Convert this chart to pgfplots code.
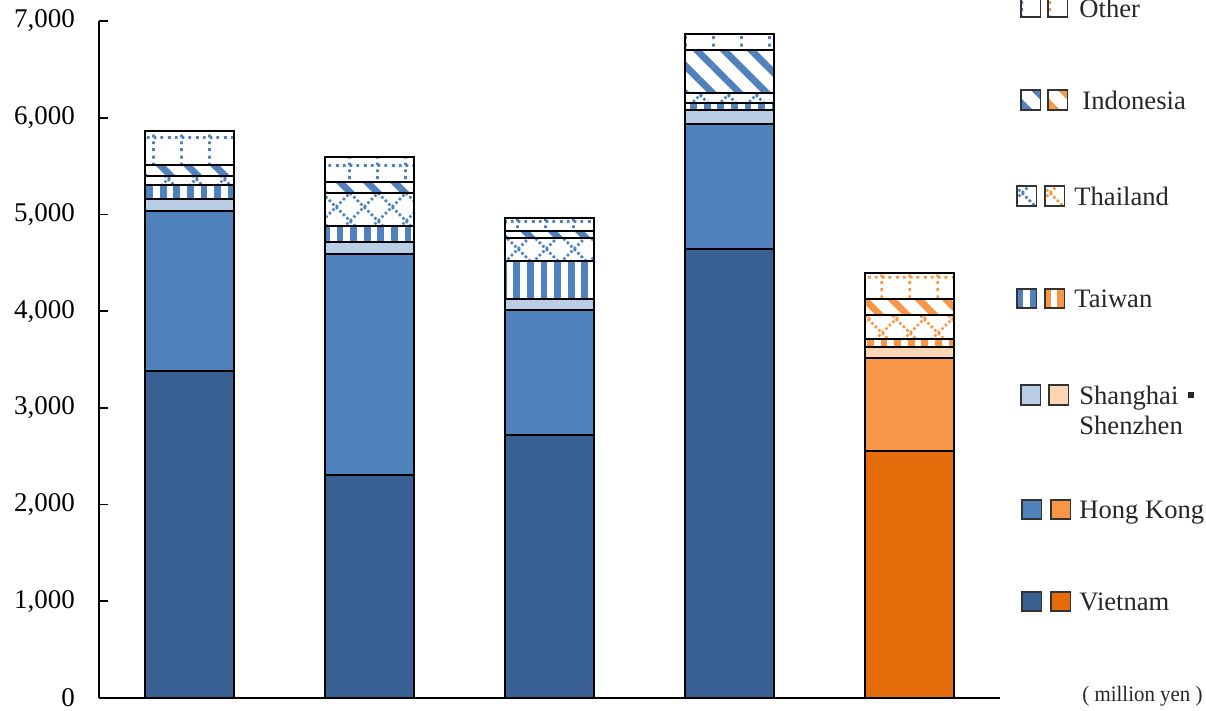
\documentclass[border=0pt]{standalone}
\usepackage{fontspec}
\setmainfont{Liberation Serif}
\usepackage{pgfplots}
\usepackage{pgfplotstable}
\pgfplotsset{compat=1.18}
\usetikzlibrary{patterns,patterns.meta}

\definecolor{bV}{HTML}{386092}
\definecolor{bH}{HTML}{4F81BD}
\definecolor{bS}{HTML}{B9CDE5}
\definecolor{oV}{HTML}{E46C0A}
\definecolor{oH}{HTML}{F79646}
\definecolor{oS}{HTML}{FCD5B5}

\pgfdeclarepatternformonly{thaidiamond}{\pgfqpoint{-1pt}{-1pt}}{\pgfqpoint{15pt}{15pt}}{\pgfqpoint{14pt}{14pt}}{%
  \pgfsetlinewidth{1.3pt}%
  \pgfsetdash{{1.3pt}{1.175pt}}{0pt}%
  \pgfpathmoveto{\pgfqpoint{0pt}{0pt}}\pgfpathlineto{\pgfqpoint{14pt}{14pt}}%
  \pgfpathmoveto{\pgfqpoint{0pt}{14pt}}\pgfpathlineto{\pgfqpoint{14pt}{0pt}}%
  \pgfusepath{stroke}}
\pgfdeclarepatternformonly{othergrid}{\pgfqpoint{0pt}{0pt}}{\pgfqpoint{14pt}{14pt}}{\pgfqpoint{14pt}{14pt}}{%
  \pgfsetlinewidth{1.4pt}%
  \pgfsetdash{{1.5pt}{2pt}}{0pt}%
  \pgfpathmoveto{\pgfqpoint{7pt}{0pt}}\pgfpathlineto{\pgfqpoint{7pt}{14pt}}%
  \pgfpathmoveto{\pgfqpoint{0pt}{7pt}}\pgfpathlineto{\pgfqpoint{14pt}{7pt}}%
  \pgfusepath{stroke}}

\tikzset{
  pTW/.style={pattern={Lines[angle=90,distance=6.8pt,line width=3.4pt]}},
  pTH/.style={pattern=thaidiamond},
  pID/.style={pattern={Lines[angle=-45,distance=9.6pt,line width=3.4pt]}},
  pOT/.style={pattern=othergrid},
}

% b* = blue bars (first four), o* = orange bar (fifth); zeros where a bar has no such segment
\pgfplotstableread{
x bV bHK bSS bTW bTH bID bOT oV oHK oSS oTW oTH oID oOT
0 3382 1657 121 145 93 110 358 0 0 0 0 0 0 0
1 2306 2286 127 162 338 120 259 0 0 0 0 0 0 0
2 2720 1292 111 396 235 72 141 0 0 0 0 0 0 0
3 4643 1293 145 76 103 438 169 0 0 0 0 0 0 0
4 0 0 0 0 0 0 0 2554 959 120 80 248 165 266
}\data

\newcommand{\sw}[3]{\draw[line width=0.8pt,draw=black!80,#3] ({#1},{#2-4.9pt}) rectangle ++(9.75pt,9.75pt);}

\begin{document}
\begin{tikzpicture}
\path[use as bounding box] (-49.5pt,-6.5pt) rectangle (553.5pt,349pt);
\begin{axis}[
  scale only axis, width=450.5pt, height=338.5pt,
  xmin=-0.5, xmax=4.5, ymin=0, ymax=7000,
  ybar stacked, bar width=44.5pt,
  axis x line=bottom, axis y line=left,
  axis line style={-, line width=1pt, black},
  xtick=\empty,
  ytick={0,1000,...,7000},
  tick align=inside, major tick length=4.5pt,
  tick style={black, line width=0.8pt},
  yticklabel style={font=\fontsize{13.5}{16}\selectfont, xshift=-8.5pt},
  /pgf/number format/1000 sep={,},
  /pgf/number format/assume math mode=true,
  clip=false,
  every axis plot/.append style={draw=black, line width=1pt},
]
\addplot[fill=bV] table[x=x,y=bV]{\data};
\addplot[fill=bH] table[x=x,y=bHK]{\data};
\addplot[fill=bS] table[x=x,y=bSS]{\data};
\addplot[pTW, pattern color=bH] table[x=x,y=bTW]{\data};
\addplot[pTH, pattern color=bH] table[x=x,y=bTH]{\data};
\addplot[pID, pattern color=bH] table[x=x,y=bID]{\data};
\addplot[pOT, pattern color=bH] table[x=x,y=bOT]{\data};
\addplot[fill=oV] table[x=x,y=oV]{\data};
\addplot[fill=oH] table[x=x,y=oHK]{\data};
\addplot[fill=oS] table[x=x,y=oSS]{\data};
\addplot[pTW, pattern color=oH] table[x=x,y=oTW]{\data};
\addplot[pTH, pattern color=oH] table[x=x,y=oTH]{\data};
\addplot[pID, pattern color=oH] table[x=x,y=oID]{\data};
\addplot[pOT, pattern color=oH] table[x=x,y=oOT]{\data};
\end{axis}
% legend
\sw{461pt}{345.5pt}{pOT,pattern color=bH}
\sw{474.5pt}{345.5pt}{pOT,pattern color=oH}
\sw{461pt}{299pt}{pID,pattern color=bH}
\sw{474.5pt}{299pt}{pID,pattern color=oH}
\sw{459pt}{251pt}{pTH,pattern color=bH}
\sw{473pt}{251pt}{pTH,pattern color=oH}
\sw{459pt}{199.75pt}{pTW,pattern color=bH}
\sw{473pt}{199.75pt}{pTW,pattern color=oH}
\sw{461pt}{151.5pt}{fill=bS}
\sw{475pt}{151.5pt}{fill=oS}
\sw{461.5pt}{94.25pt}{fill=bH}
\sw{476pt}{94.25pt}{fill=oH}
\sw{461.5pt}{48.25pt}{fill=bV}
\sw{476pt}{48.25pt}{fill=oV}
\begin{scope}[every node/.style={anchor=base west, inner sep=0pt, font=\fontsize{13.3}{16}\selectfont, text=black!85}]
\node at (490pt,340.3pt) {Other};
\node at (491.5pt,294.3pt) {Indonesia};
\node at (487.5pt,246.3pt) {Thailand};
\node at (487.5pt,195pt) {Taiwan};
\node at (490pt,146.8pt) {Shanghai\hspace{5pt}\rule[3pt]{3pt}{3pt}};
\node at (490pt,131.5pt) {Shenzhen};
\node at (490pt,89.5pt) {Hong Kong};
\node at (490pt,43.5pt) {Vietnam};
\node[font=\fontsize{11}{13}\selectfont] at (491.5pt,-1.9pt) {\scalebox{0.95}[1]{( million yen )}};
\end{scope}
\end{tikzpicture}
\end{document}
